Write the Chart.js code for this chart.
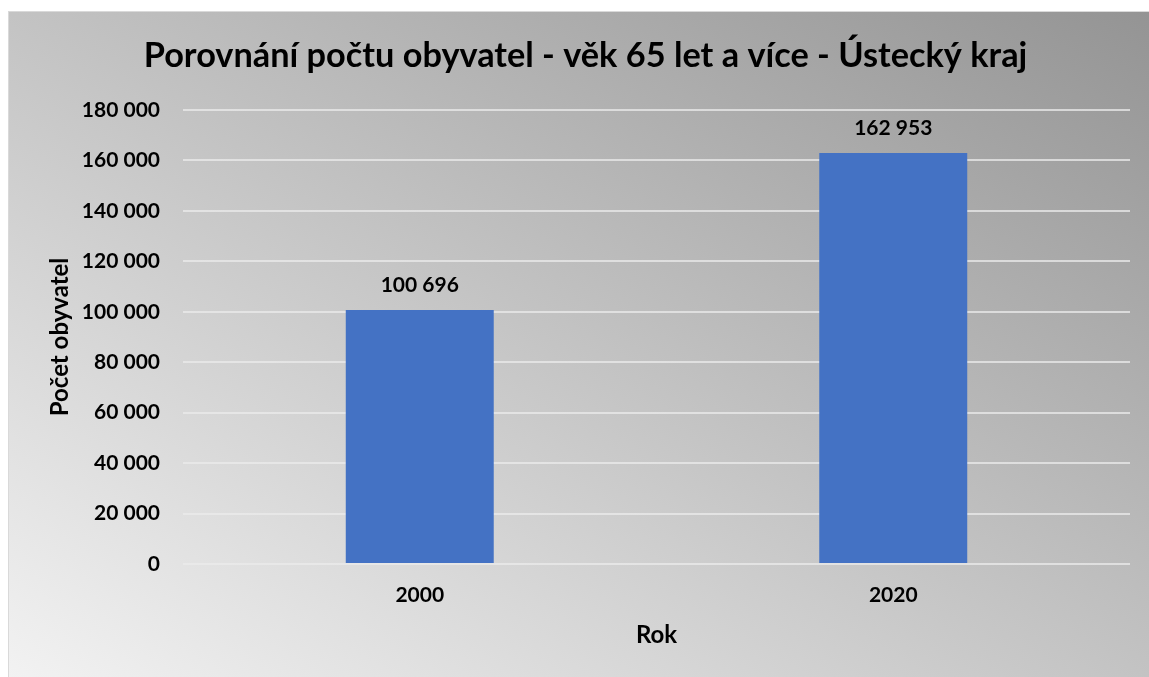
<!DOCTYPE html>
<html>
<head>
<meta charset="utf-8">
<script src="https://cdn.jsdelivr.net/npm/chart.js@4"></script>
<style>
  html, body { margin: 0; padding: 0; background: #ffffff; }
  .graph-container {
    position: absolute;
    left: 8px;
    top: 11px;
    width: 1140px;
    height: 665px;
    border-left: 1px solid #d9d9d9;
    border-top: 1px solid #d9d9d9;
    background: linear-gradient(to top right, #f2f2f2, #949494);
  }
</style>
</head>
<body>
<div class="graph-container">
  <canvas id="populationChart" width="1140" height="665"></canvas>
</div>
<script>
// data
const years = ["2000", "2020"];
const populations = [100696, 162953];
const yMax = 180000;
const yStep = 20000;

const chartTitle = "Porovnání počtu obyvatel - věk 65 let a více - Ústecký kraj";
const xTitle = "Rok";
const yTitle = "Počet obyvatel";

const fontFamily = "Lato, 'Open Sans', sans-serif";

// 100696 -> "100 696"
const formatNumber = (value) =>
  String(value).replace(/\B(?=(\d{3})+(?!\d))/g, " ");

// values above the bars
const barLabels = {
  id: "barLabels",
  afterDatasetsDraw(chart) {
    const ctx = chart.ctx;
    ctx.save();
    ctx.font = "bold 21px " + fontFamily;
    ctx.fillStyle = "#000000";
    ctx.textAlign = "center";
    ctx.textBaseline = "middle";
    chart.getDatasetMeta(0).data.forEach((bar, i) => {
      ctx.fillText(formatNumber(populations[i]), bar.x, bar.y - 25);
    });
    ctx.restore();
  },
};

const ctx = document.getElementById("populationChart").getContext("2d");
new Chart(ctx, {
  type: "bar",
  data: {
    labels: years,
    datasets: [
      {
        label: yTitle,
        data: populations,
        backgroundColor: "#4472c4",
        borderWidth: 0,
        categoryPercentage: 1,
        barPercentage: 0.3125,
      },
    ],
  },
  options: {
    responsive: false,
    animation: false,
    // left padding pushes the centred title a bit to the right
    layout: {
      padding: { left: 32, right: 19, top: 0, bottom: 23.6 },
    },
    plugins: {
      legend: { display: false },
      tooltip: { enabled: false },
      title: {
        display: true,
        text: chartTitle,
        color: "#000000",
        font: { family: fontFamily, size: 34.3, weight: "bold" },
        padding: { top: 23, bottom: 33.8 },
      },
    },
    scales: {
      x: {
        // fixed height so the plot area ends where the reference does
        afterFit(scale) {
          scale.height = 89.4;
        },
        grid: { display: false, drawTicks: false },
        border: { display: false },
        ticks: {
          color: "#000000",
          padding: 19,
          font: { family: fontFamily, size: 21, weight: "bold" },
        },
        title: {
          display: true,
          text: xTitle,
          color: "#000000",
          font: { family: fontFamily, size: 24, weight: "bold" },
          padding: { top: 0, bottom: 4 },
        },
      },
      y: {
        min: 0,
        max: yMax,
        afterFit(scale) {
          scale.width = 142;
        },
        grid: {
          color: "rgba(235, 235, 235, 0.75)",
          lineWidth: 2,
          drawTicks: false,
        },
        border: { display: false },
        ticks: {
          stepSize: yStep,
          color: "#000000",
          padding: 23,
          font: { family: fontFamily, size: 21, weight: "bold" },
          callback: function (value) {
            return formatNumber(value);
          },
        },
        title: {
          display: true,
          text: yTitle,
          color: "#000000",
          font: { family: fontFamily, size: 24, weight: "bold" },
          padding: { top: 4.6, bottom: 0 },
        },
      },
    },
  },
  plugins: [barLabels],
});
</script>
</body>
</html>
